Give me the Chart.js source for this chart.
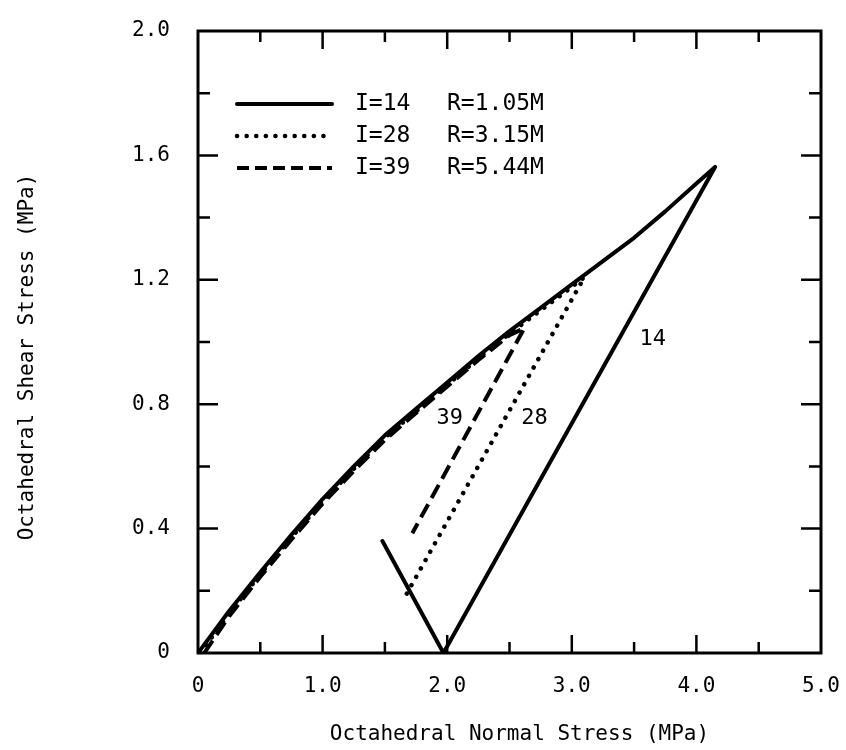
<!DOCTYPE html>
<html><head><meta charset="utf-8">
<script src="https://cdn.jsdelivr.net/npm/chart.js@4"></script>
<style>html,body{margin:0;padding:0;background:#fff}#wrap{width:846px;height:750px;position:relative}</style>
</head><body><div id="wrap"><canvas id="c"></canvas></div>
<script>
// ---- data ----
const curve14X = [0, 0.25, 0.5, 0.75, 1.0, 1.25, 1.5, 1.75, 2.0, 2.25, 2.5, 2.75, 3.0, 3.25, 3.5, 3.75, 4.0, 4.15, 1.97, 1.48];
const curve14Y = [0, 0.135, 0.26, 0.38, 0.495, 0.6, 0.7, 0.785, 0.87, 0.955, 1.035, 1.11, 1.185, 1.26, 1.335, 1.42, 1.51, 1.563, 0, 0.36];
const curve28X = [0.02, 0.25, 0.5, 0.75, 1.0, 1.25, 1.5, 1.75, 2.0, 2.25, 2.5, 2.75, 3.0, 3.1, 1.66];
const curve28Y = [0, 0.128, 0.253, 0.372, 0.487, 0.592, 0.692, 0.777, 0.862, 0.947, 1.027, 1.102, 1.177, 1.208, 0.18];
const curve39X = [0.05, 0.25, 0.5, 0.75, 1.0, 1.25, 1.5, 1.75, 2.0, 2.25, 2.5, 2.62, 1.72];
const curve39Y = [0, 0.118, 0.245, 0.365, 0.48, 0.585, 0.685, 0.772, 0.857, 0.942, 1.022, 1.045, 0.385];

const curveNames = ['14', '28', '39'];
const curveLabelX = [3.65, 2.70, 2.02];
const curveLabelY = [1.01, 0.755, 0.755];
const legendI = ['I=14', 'I=28', 'I=39'];
const legendR = ['R=1.05M', 'R=3.15M', 'R=5.44M'];

const xTickMarks = [0.5, 1, 1.5, 2, 2.5, 3, 3.5, 4, 4.5];
const yTickMarks = [0.2, 0.4, 0.6, 0.8, 1.0, 1.2, 1.4, 1.6, 1.8];
const xTitle = 'Octahedral Normal Stress (MPa)';
const yTitle = 'Octahedral Shear Stress (MPa)';

const pts = (xs, ys) => xs.map((v, i) => ({x: v, y: ys[i]}));
const FONT = "'DejaVu Sans Mono', 'Liberation Mono', monospace";

const frame = {
  id: 'frame',
  afterDatasetsDraw(chart) {
    const {ctx, chartArea: a, scales: {x, y}} = chart;
    ctx.save();
    ctx.strokeStyle = '#000';
    ctx.lineWidth = 3;
    ctx.lineCap = 'butt';
    ctx.strokeRect(a.left, a.top, a.right - a.left, a.bottom - a.top);
    ctx.lineWidth = 2.5;
    ctx.beginPath();
    xTickMarks.forEach(v => {
      const px = x.getPixelForValue(v);
      const len = Math.abs(v - Math.round(v)) < 1e-9 ? 18 : 11;
      ctx.moveTo(px, a.bottom); ctx.lineTo(px, a.bottom - len);
      ctx.moveTo(px, a.top); ctx.lineTo(px, a.top + len);
    });
    yTickMarks.forEach(v => {
      const py = y.getPixelForValue(v);
      const major = Math.abs(v / 0.4 - Math.round(v / 0.4)) < 1e-6;
      const len = major ? 20 : 12;
      ctx.moveTo(a.left, py); ctx.lineTo(a.left + len, py);
      ctx.moveTo(a.right, py); ctx.lineTo(a.right - len, py);
    });
    ctx.stroke();

    ctx.fillStyle = '#000';
    // axis titles
    ctx.font = "21px " + FONT;
    ctx.textAlign = 'center';
    ctx.textBaseline = 'middle';
    ctx.fillText(xTitle, (a.left + a.right) / 2 + 10, 735);
    ctx.save();
    ctx.translate(28, (a.top + a.bottom) / 2 + 15);
    ctx.rotate(-Math.PI / 2);
    ctx.fillText(yTitle, 0, 0);
    ctx.restore();

    // curve labels
    ctx.font = "22px " + FONT;
    curveNames.forEach((t, i) => {
      ctx.fillText(t, x.getPixelForValue(curveLabelX[i]), y.getPixelForValue(curveLabelY[i]));
    });

    // legend
    const styles = chart.data.datasets;
    const rowY = [104, 136, 168];
    ctx.textAlign = 'left';
    ctx.font = "23px " + FONT;
    styles.forEach((ds, i) => {
      ctx.save();
      ctx.lineWidth = ds.borderWidth;
      ctx.lineCap = ds.borderCapStyle || 'butt';
      ctx.setLineDash(i === 2 ? [12, 6] : (ds.borderDash || []));
      ctx.beginPath();
      ctx.moveTo(237, rowY[i]); ctx.lineTo(332, rowY[i]);
      ctx.stroke();
      ctx.restore();
      ctx.fillText(legendI[i], 355, rowY[i]);
      ctx.fillText(legendR[i], 447, rowY[i]);
    });
    ctx.restore();
  }
};

new Chart(document.getElementById('c'), {
  type: 'scatter',
  data: {
    datasets: [
      {label: 'I=14', data: pts(curve14X, curve14Y), showLine: true, borderColor: '#000', borderWidth: 4, pointRadius: 0, tension: 0, borderJoinStyle: 'round', borderCapStyle: 'round'},
      {label: 'I=28', data: pts(curve28X, curve28Y), showLine: true, borderColor: '#000', borderWidth: 4.5, borderDash: [0.1, 9.5], borderCapStyle: 'round', pointRadius: 0, tension: 0},
      {label: 'I=39', data: pts(curve39X, curve39Y), showLine: true, borderColor: '#000', borderWidth: 4, borderDash: [15, 7], borderCapStyle: 'butt', pointRadius: 0, tension: 0}
    ]
  },
  options: {
    responsive: true,
    maintainAspectRatio: false,
    animation: false,
    layout: {padding: {top: 31, right: 25, left: 0, bottom: 0}},
    plugins: {legend: {display: false}, tooltip: {enabled: false}},
    scales: {
      x: {
        type: 'linear', min: 0, max: 5,
        grid: {display: false, drawTicks: false}, border: {display: false},
        ticks: {stepSize: 1, color: '#000', padding: 21, font: {family: FONT, size: 21},
          callback: v => v === 0 ? '0' : v.toFixed(1)},
        title: {display: false},
        afterFit: s => { s.height = 97; s.paddingLeft = 0; s.paddingRight = 0; }
      },
      y: {
        type: 'linear', min: 0, max: 2,
        grid: {display: false, drawTicks: false}, border: {display: false},
        ticks: {stepSize: 0.4, color: '#000', padding: 28, font: {family: FONT, size: 21},
          callback: v => Math.abs(v) < 1e-9 ? '0' : v.toFixed(1)},
        title: {display: false},
        afterFit: s => { s.width = 198; s.paddingTop = 0; s.paddingBottom = 0; }
      }
    }
  },
  plugins: [frame]
});
</script>
</body></html>
